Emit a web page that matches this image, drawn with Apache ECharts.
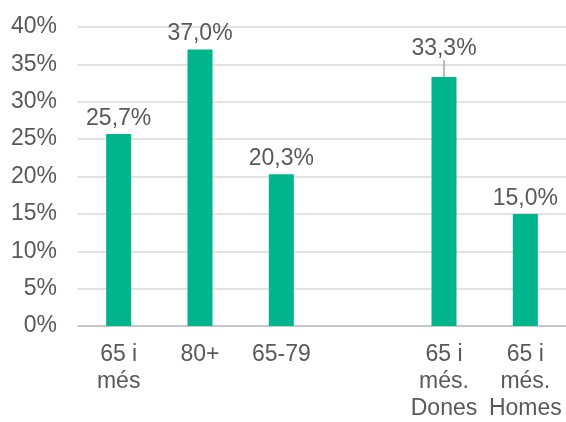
<!DOCTYPE html>
<html>
<head>
<meta charset="utf-8">
<style>
  html, body { margin: 0; padding: 0; background: #ffffff; }
  #chart { width: 566px; height: 422px; }
</style>
<script src="https://cdn.jsdelivr.net/npm/echarts@6/dist/echarts.min.js"></script>
</head>
<body>
<div id="chart"></div>
<script>
// Age groups (an empty slot separates the totals from the split by sex)
var categories = ['65 i\nmés', '80+', '65-79', '', '65 i\nmés.\nDones', '65 i\nmés.\nHomes'];
// Share in percent
var values = [25.7, 37.0, 20.3, null, 33.3, 15.0];
// Y-axis range and step (percent)
var yMin = 0, yMax = 40, yStep = 5;
// Bar whose label is lifted with a leader line
var liftedIndex = 4;

var FONT = '"Liberation Sans", Arial, sans-serif';
var TEXT = '#595959';

var chart = echarts.init(document.getElementById('chart'), null, { renderer: 'canvas' });

var seriesData = values.map(function (v, i) {
  if (v === null) return '-';
  var item = { value: v };
  if (i === liftedIndex) {
    item.labelLine = { show: true, lineStyle: { color: '#A6A6A6', width: 1.5 } };
  }
  return item;
});

chart.setOption({
  animation: false,
  backgroundColor: '#ffffff',
  grid: { left: 78, right: -3, top: 27, bottom: 93, containLabel: false },
  xAxis: {
    type: 'category',
    data: categories,
    axisLine: { lineStyle: { color: '#BFBFBF', width: 1.5 } },
    axisTick: { show: false },
    axisLabel: {
      interval: 0,
      margin: 15,
      color: TEXT,
      fontFamily: FONT,
      fontSize: 23,
      lineHeight: 27,
      align: 'center'
    }
  },
  yAxis: {
    type: 'value',
    min: yMin,
    max: yMax,
    interval: yStep,
    axisLine: { show: false },
    axisTick: { show: false },
    splitLine: { lineStyle: { color: '#D9D9D9', width: 1.5 } },
    axisLabel: {
      margin: 21,
      color: TEXT,
      fontFamily: FONT,
      fontSize: 23,
      formatter: function (v) { return v + '%'; }
    }
  },
  series: [{
    type: 'bar',
    data: seriesData,
    barWidth: 25,
    itemStyle: { color: '#00B48B' },
    label: {
      show: true,
      position: 'top',
      distance: 4,
      color: TEXT,
      fontFamily: FONT,
      fontSize: 23,
      formatter: function (p) { return p.value.toFixed(1).replace('.', ',') + '%'; }
    },
    labelLayout: function (params) {
      if (params.dataIndex === liftedIndex) return { dy: -13 };
      return {};
    }
  }]
});
</script>
</body>
</html>
